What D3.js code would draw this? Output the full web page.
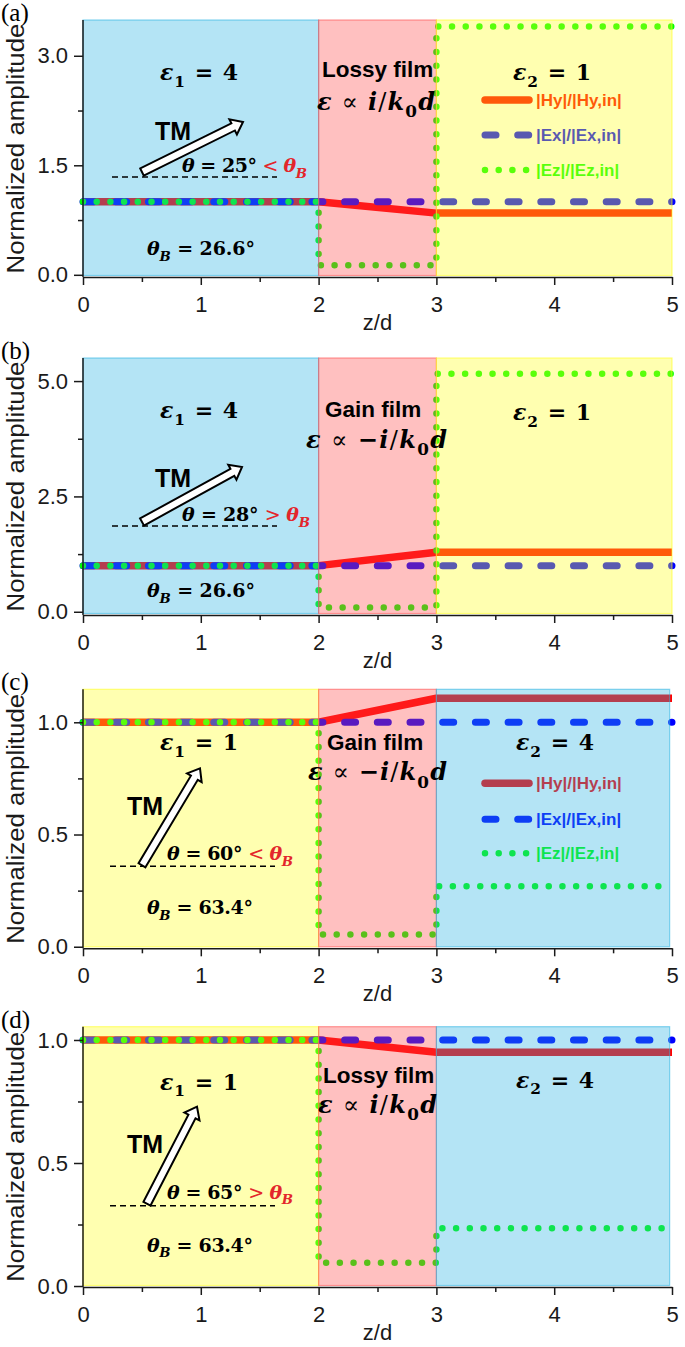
<!DOCTYPE html>
<html><head><meta charset="utf-8">
<script src="https://cdn.jsdelivr.net/npm/d3@7"></script>
<style>body{margin:0;background:#fff}</style>
</head><body>
<svg id="chart" width="685" height="1347"></svg>
<script>
// ---------------- data ----------------
const zTicks = [0, 1, 2, 3, 4, 5];
const zMinorTicks = [0.5, 1.5, 2.5, 3.5, 4.5];
const panelLabels = ["(a)", "(b)", "(c)", "(d)"];
const xLabel = "z/d";
const yLabel = "Normalized amplitude";

const hyZ = [0, 2, 3, 5];
const hyA = [1, 1, 0.845, 0.845];
const hyB = [1, 1, 1.29, 1.29];
const hyC = [1, 1, 1.107, 1.107];
const hyD = [1, 1, 0.95, 0.95];

const exZ = [0, 5];
const exA = [1, 1];
const exB = [1, 1];
const exC = [1, 1];
const exD = [1, 1];

const ezZ = [0, 2, 2, 3, 3, 5];
const ezA = [1, 1, 0.13, 0.13, 3.40, 3.40];
const ezB = [1, 1, 0.095, 0.095, 5.16, 5.16];
const ezC = [1, 1, 0.055, 0.055, 0.27, 0.27];
const ezD = [1, 1, 0.095, 0.095, 0.235, 0.235];

const yTicksA = [0, 1.5, 3.0];   const yMinorA = [0.75, 2.25];
const yTicksB = [0, 2.5, 5.0];   const yMinorB = [1.25, 3.75];
const yTicksC = [0, 0.5, 1.0];   const yMinorC = [0.25, 0.75];
const yTicksD = [0, 0.5, 1.0];   const yMinorD = [0.25, 0.75];

const layerBoundsAB = [0, 2, 3, 5];
const layerBoundsCD = [0, 2, 3, 4.98];
const layerMediaAB = ["dense", "film", "air"];
const layerMediaCD = ["air", "film", "dense"];

const legendLabels = ["|Hy|/|Hy,in|", "|Ex|/|Ex,in|", "|Ez|/|Ez,in|"];
const eps1Values = ["4", "4", "1", "1"];
const eps2Values = ["1", "1", "4", "4"];
const filmNames = ["Lossy film", "Gain film", "Gain film", "Lossy film"];
const filmGain = [false, true, true, false];
const thetaValues = ["25", "28", "60", "65"];
const thetaRelations = ["<", ">", "<", ">"];
const thetaBValues = ["26.6", "26.6", "63.4", "63.4"];

// ---------------- styles / layout ----------------
const X0 = 83, X1 = 672;
const mediumFill = { dense: "rgb(41,178,226)", film: "rgb(255,75,75)", air: "rgb(255,255,30)" };
const overlayOpacity = 0.35;
const seriesStyle = [
  { color: "#ff0000", width: 7.5, dash: null, cap: "butt" },
  { color: "#0000ff", width: 7, dash: "11,21.7", cap: "round" },
  { color: "#00ff00", width: 6.5, dash: "0,13.7", cap: "round" }
];

const panels = [
  { top: 20, bottom: 277, yDomain: [-0.03, 3.49], yTicks: yTicksA, yMinor: yMinorA,
    series: [[hyZ, hyA], [exZ, exA], [ezZ, ezA]], bounds: layerBoundsAB, media: layerMediaAB,
    legend: { x0: 482, x1: 532, rows: [80, 115, 150] },
    ann: { eps1: [199, 60], tm: [155, 120], arrow: [[142, 152], [243, 102]], dash: [112, 277, 157],
           theta: [182, 152], thetaB: [147, 235], film: [322, 57], filmEps: [317, 90], eps2: [552, 60],
           wFilm: 118, wTheta: 125, wThetaB: 108 } },
  { top: 358, bottom: 615, yDomain: [-0.07, 5.5], yTicks: yTicksB, yMinor: yMinorB,
    series: [[hyZ, hyB], [exZ, exB], [ezZ, ezB]], bounds: layerBoundsAB, media: layerMediaAB,
    legend: null,
    ann: { eps1: [199, 60], tm: [155, 129], arrow: [[142, 164], [242, 109]], dash: [112, 277, 168],
           theta: [182, 163], thetaB: [147, 239], film: [325, 59], filmEps: [306, 90], eps2: [552, 62],
           wFilm: 141, wTheta: 128, wThetaB: 108 } },
  { top: 689.3, bottom: 948.3, yDomain: [-0.007, 1.147], yTicks: yTicksC, yMinor: yMinorC,
    series: [[hyZ, hyC], [exZ, exC], [ezZ, ezC]], bounds: layerBoundsCD, media: layerMediaCD,
    legend: { x0: 482, x1: 532, rows: [94, 130, 164] },
    ann: { eps1: [199, 61], tm: [127, 126], arrow: [[142, 176], [200, 79]], dash: [110, 275, 177],
           theta: [167, 171], thetaB: [147, 225], film: [327, 61], filmEps: [308, 91], eps2: [555, 61],
           wFilm: 139, wTheta: 126, wThetaB: 106 } },
  { top: 1026.7, bottom: 1287, yDomain: [-0.004, 1.054], yTicks: yTicksD, yMinor: yMinorD,
    series: [[hyZ, hyD], [exZ, exD], [ezZ, ezD]], bounds: layerBoundsCD, media: layerMediaCD,
    legend: null,
    ann: { eps1: [199, 63], tm: [127, 126], arrow: [[147, 177], [197, 80]], dash: [110, 275, 179],
           theta: [167, 172], thetaB: [147, 225], film: [323, 56], filmEps: [318, 86], eps2: [555, 61],
           wFilm: 119, wTheta: 126, wThetaB: 106 } }
];

const svg = d3.select("#chart");
const SANS = "'Liberation Sans', Arial, sans-serif";
const SERIF = "'DejaVu Serif', serif";

function mathText(g, x, y, segs, o) {
  const t = g.append("text").attr("x", x).attr("y", y)
    .attr("font-family", SERIF).attr("font-weight", "bold")
    .attr("font-size", o.size).attr("text-anchor", o.anchor || "start").attr("fill", "#000");
  if (o.width) t.attr("textLength", o.width).attr("lengthAdjust", "spacing");
  let shifted = 0;
  segs.forEach(s => {
    const ts = t.append("tspan").text(s.t);
    const want = s.sub ? o.size * 0.3 : 0;
    if (want !== shifted) { ts.attr("dy", want - shifted); shifted = want; }
    if (s.sub) ts.attr("font-size", o.size * 0.7);
    if (s.it) ts.attr("font-style", "italic");
    if (s.normal) ts.attr("font-weight", "normal");
    if (s.color) ts.attr("fill", s.color);
  });
  return t;
}

function arrowPoints(T, P) {
  const dx = P[0] - T[0], dy = P[1] - T[1], L = Math.hypot(dx, dy);
  const u = [dx / L, dy / L], n = [-u[1], u[0]];
  const hw = 4, hh = 8.5, hl = 11;
  const N = [P[0] - u[0] * hl, P[1] - u[1] * hl];
  const pt = (b, s) => [b[0] + n[0] * s, b[1] + n[1] * s];
  return [pt(T, hw), pt(N, hw), pt(N, hh), P, pt(N, -hh), pt(N, -hw), pt(T, -hw)];
}

panels.forEach((p, pi) => {
  const g = svg.append("g");
  const x = d3.scaleLinear().domain([0, 5]).range([X0, X1]);
  const y = d3.scaleLinear().domain(p.yDomain).range([p.bottom, p.top]);
  const line = d3.line().x(d => x(d[0])).y(d => y(d[1]));

  // data lines (beneath translucent layer overlays)
  const lines = g.append("g");
  p.series.forEach(([zs, vs], si) => {
    const st = seriesStyle[si];
    lines.append("path").datum(zs.map((z, i) => [z, vs[i]]))
      .attr("d", line).attr("fill", "none").attr("stroke", st.color)
      .attr("stroke-width", st.width).attr("stroke-linecap", st.cap)
      .attr("stroke-linejoin", "round")
      .attr("stroke-dasharray", st.dash);
  });
  if (p.legend) {
    const lg = g.append("g");
    legendLabels.forEach((lab, si) => {
      const st = seriesStyle[si];
      const yy = p.top + p.legend.rows[si];
      lg.append("line").attr("x1", p.legend.x0 + 3).attr("x2", p.legend.x1 - 3)
        .attr("y1", yy).attr("y2", yy).attr("stroke", st.color)
        .attr("stroke-width", st.width).attr("stroke-linecap", si === 0 ? "round" : st.cap)
        .attr("stroke-dasharray", st.dash);
      lg.append("text").attr("x", p.legend.x1 + 4).attr("y", yy + 6)
        .attr("font-family", SANS).attr("font-weight", "bold").attr("font-size", 17)
        .attr("fill", st.color).text(lab);
    });
  }

  // translucent layer rectangles
  const [y0, y1] = p.yDomain;
  g.append("g").selectAll("rect").data(p.media).join("rect")
    .attr("x", (d, i) => x(p.bounds[i]))
    .attr("width", (d, i) => x(p.bounds[i + 1]) - x(p.bounds[i]))
    .attr("y", y(y1))
    .attr("height", y(y0) - y(y1) - 1.5)
    .attr("fill", d => mediumFill[d]).attr("fill-opacity", overlayOpacity)
    .attr("stroke", d => mediumFill[d]).attr("stroke-opacity", 0.55).attr("stroke-width", 1.2);

  // axes
  const axG = g.append("g").attr("font-family", SANS);
  const yAx = axG.append("g").attr("transform", `translate(${X0},0)`)
    .call(d3.axisLeft(y).tickValues(p.yTicks).tickFormat(d3.format(".1f"))
      .tickSize(9).tickSizeOuter(0).tickPadding(6));
  axG.append("g").attr("transform", `translate(${X0},0)`)
    .call(d3.axisLeft(y).tickValues(p.yMinor).tickFormat("").tickSize(5).tickSizeOuter(0))
    .select(".domain").remove();
  axG.append("g").attr("transform", `translate(0,${p.bottom})`)
    .call(d3.axisBottom(x).tickValues(zTicks).tickFormat(d3.format("d"))
      .tickSize(8).tickSizeOuter(0).tickPadding(11));
  axG.append("g").attr("transform", `translate(0,${p.bottom})`)
    .call(d3.axisBottom(x).tickValues(zMinorTicks).tickFormat("").tickSize(5).tickSizeOuter(0))
    .select(".domain").remove();
  // y-axis domain spans full plot height
  yAx.select(".domain").attr("d", `M0,${p.bottom}V${p.top}`);
  axG.selectAll(".domain, .tick line").attr("stroke", "#1a1a1a").attr("stroke-width", 1.5);
  axG.selectAll(".tick text").attr("font-size", 22).attr("fill", "#1a1a1a");

  g.append("text").attr("x", (X0 + X1) / 2).attr("y", p.bottom + 53)
    .attr("text-anchor", "middle").attr("font-family", SANS).attr("font-size", 22)
    .attr("fill", "#1a1a1a").text(xLabel);
  g.append("text")
    .attr("transform", `translate(24,${(p.top + p.bottom) / 2}) rotate(-90)`)
    .attr("text-anchor", "middle").attr("font-family", SANS).attr("font-size", 23.5)
    .attr("textLength", 250).attr("lengthAdjust", "spacingAndGlyphs")
    .attr("fill", "#1a1a1a").text(yLabel);
  g.append("text").attr("x", 1).attr("y", p.top + 1)
    .attr("font-family", "'Liberation Serif', serif").attr("font-size", 25)
    .attr("fill", "#000").text(panelLabels[pi]);

  // annotations
  const a = p.ann, T = p.top;
  mathText(g, a.eps1[0], T + a.eps1[1],
    [{ t: "ε", it: true }, { t: "1", sub: true }, { t: " = " + eps1Values[pi] }],
    { size: 22, anchor: "middle", width: 78 });
  mathText(g, a.eps2[0], T + a.eps2[1],
    [{ t: "ε", it: true }, { t: "2", sub: true }, { t: " = " + eps2Values[pi] }],
    { size: 22, anchor: "middle", width: 78 });
  g.append("text").attr("x", a.film[0]).attr("y", T + a.film[1])
    .attr("font-family", SANS).attr("font-weight", "bold").attr("font-size", 22.5)
    .attr("fill", "#000").text(filmNames[pi]);
  const filmSegs = [{ t: "ε", it: true }, { t: " ∝ ", normal: true }];
  if (filmGain[pi]) filmSegs.push({ t: "−" });
  filmSegs.push({ t: "i", it: true }, { t: "/", normal: true }, { t: "k", it: true },
    { t: "0", sub: true }, { t: "d", it: true });
  mathText(g, a.filmEps[0], T + a.filmEps[1], filmSegs, { size: 24, width: a.wFilm });

  g.append("text").attr("x", a.tm[0]).attr("y", T + a.tm[1])
    .attr("font-family", SANS).attr("font-weight", "bold").attr("font-size", 25)
    .attr("fill", "#000").text("TM");
  g.append("line").attr("x1", a.dash[0]).attr("x2", a.dash[1])
    .attr("y1", T + a.dash[2]).attr("y2", T + a.dash[2])
    .attr("stroke", "#000").attr("stroke-width", 1.6).attr("stroke-dasharray", "6,4");
  const ap = arrowPoints([a.arrow[0][0], T + a.arrow[0][1]], [a.arrow[1][0], T + a.arrow[1][1]]);
  g.append("polygon").attr("points", ap.map(q => q.join(",")).join(" "))
    .attr("fill", "#fff").attr("stroke", "#000").attr("stroke-width", 2)
    .attr("stroke-linejoin", "miter");

  mathText(g, a.theta[0], T + a.theta[1],
    [{ t: "θ", it: true }, { t: " = " + thetaValues[pi] + "° " },
     { t: thetaRelations[pi] + " ", color: "#e3262b", normal: true },
     { t: "θ", it: true, color: "#e3262b" }, { t: "B", it: true, sub: true, color: "#e3262b" }],
    { size: 19, width: a.wTheta });
  mathText(g, a.thetaB[0], T + a.thetaB[1],
    [{ t: "θ", it: true }, { t: "B", it: true, sub: true }, { t: " = " + thetaBValues[pi] + "°" }],
    { size: 19, width: a.wThetaB });
});
</script>
</body></html>
